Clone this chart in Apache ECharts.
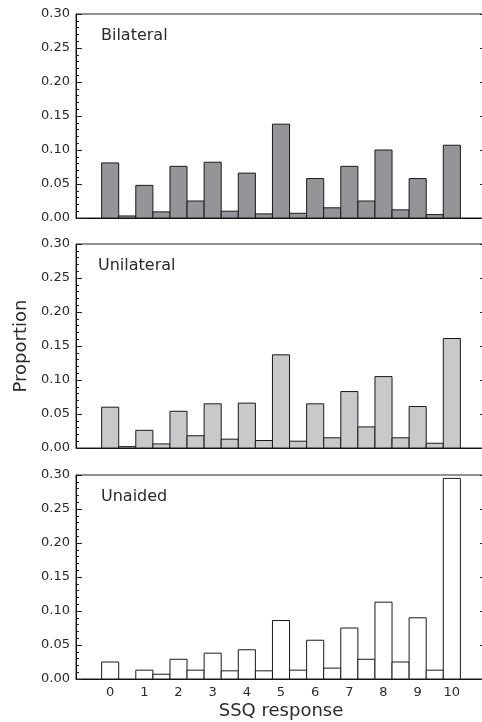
<!DOCTYPE html>
<html>
<head>
<meta charset="utf-8">
<script src="https://cdn.jsdelivr.net/npm/echarts@6/dist/echarts.min.js"></script>
<style>html,body{margin:0;padding:0;background:#fff}#c{width:482px;height:722px}</style>
</head>
<body>
<div id="c"></div>
<script>
// Data
const positions = [0,0.5,1,1.5,2,2.5,3,3.5,4,4.5,5,5.5,6,6.5,7,7.5,8,8.5,9,9.5,10];
const xTickLabels = ['0','1','2','3','4','5','6','7','8','9','10'];
const yTickLabels = ['0.00','0.05','0.10','0.15','0.20','0.25','0.30'];
const panelNames = ['Bilateral','Unilateral','Unaided'];
const bilateral  = [0.081,0.003,0.048,0.009,0.076,0.025,0.082,0.010,0.066,0.006,0.138,0.007,0.058,0.015,0.076,0.025,0.100,0.012,0.058,0.005,0.107];
const unilateral = [0.060,0.002,0.026,0.006,0.054,0.018,0.065,0.013,0.066,0.011,0.137,0.010,0.065,0.015,0.083,0.031,0.105,0.015,0.061,0.007,0.161];
const unaided    = [0.025,0.000,0.013,0.007,0.029,0.013,0.038,0.012,0.043,0.012,0.086,0.013,0.057,0.016,0.075,0.029,0.113,0.025,0.090,0.013,0.295];

const seriesData = [bilateral, unilateral, unaided];
const fills = ['#939598','#c8c9cb','#ffffff'];
const tops = [14, 244, 475];
const labelLeft = [101, 98, 101];
const H = 204;
const font = 'DejaVu Sans';
const txt = '#2a2a2a';

const chart = echarts.init(document.getElementById('c'), null, {renderer:'canvas'});

const grids = [], xAxes = [], yAxes = [], series = [], graphics = [];
for (let i = 0; i < 3; i++) {
  grids.push({left:76, width:410, top:tops[i], height:H, outerBoundsMode:'none', containLabel:false,
    show:true, borderColor:'#222', borderWidth:1, backgroundColor:'transparent'});
  xAxes.push({
    type:'value', gridIndex:i, min:-1, max:11, interval:1,
    axisLine:{show:true, onZero:false, lineStyle:{color:'#111', width:1}},
    axisTick:{show:false}, splitLine:{show:false},
    axisLabel:{show:i===2, margin:7, fontFamily:font, fontSize:13, color:txt,
      formatter:v => (v>=0 && v<=10) ? xTickLabels[v] : ''},
    name: i===2 ? 'SSQ response' : '', nameLocation:'middle', nameGap:23,
    nameTextStyle:{fontFamily:font, fontSize:18, color:txt}
  });
  yAxes.push({
    type:'value', gridIndex:i, min:0, max:0.3, interval:0.05, position:'left',
    axisLine:{show:true, onZero:false, lineStyle:{color:'#111', width:1}},
    axisTick:{show:true, inside:true, length:6, lineStyle:{color:'#222'}},
    minorTick:{show:true, splitNumber:5, length:3, lineStyle:{color:'#222'}},
    splitLine:{show:false},
    axisLabel:{margin:6, fontFamily:font, fontSize:13, color:txt,
      formatter:v => yTickLabels[Math.round(v/0.05)]},
    name: i===1 ? 'Proportion' : '', nameLocation:'middle', nameGap:46,
    nameTextStyle:{fontFamily:font, fontSize:18, color:txt}
  });
  yAxes.push({
    type:'value', gridIndex:i, min:0, max:0.3, interval:0.05, position:'right',
    axisLine:{show:true, onZero:false, lineStyle:{color:'#111', width:1}},
    axisTick:{show:true, inside:true, length:6, lineStyle:{color:'#222'}},
    minorTick:{show:true, splitNumber:5, length:3, lineStyle:{color:'#222'}},
    splitLine:{show:false}, axisLabel:{show:false}
  });
  const vals = seriesData[i];
  series.push({
    type:'custom', xAxisIndex:i, yAxisIndex:i*2,
    data: positions.map((p,k)=>[p, vals[k]]),
    renderItem:(params, api) => {
      const x = api.value(0), y = api.value(1);
      if (y <= 0) return null;
      const p1 = api.coord([x-0.25, y]);
      const p2 = api.coord([x+0.25, 0]);
      return {type:'rect', shape:{x:p1[0], y:p1[1], width:p2[0]-p1[0], height:p2[1]-p1[1]},
        style:{fill:fills[i], stroke:'#1a1a1a', lineWidth:1}};
    },
    clip:false, silent:true, animation:false
  });
  graphics.push({type:'text', left:labelLeft[i], top:tops[i]+14, style:{text:panelNames[i], font:'16px "'+font+'"', fill:txt}});
}

chart.setOption({
  animation:false,
  grid:grids, xAxis:xAxes, yAxis:yAxes, series:series, graphic:graphics
});
</script>
</body>
</html>
